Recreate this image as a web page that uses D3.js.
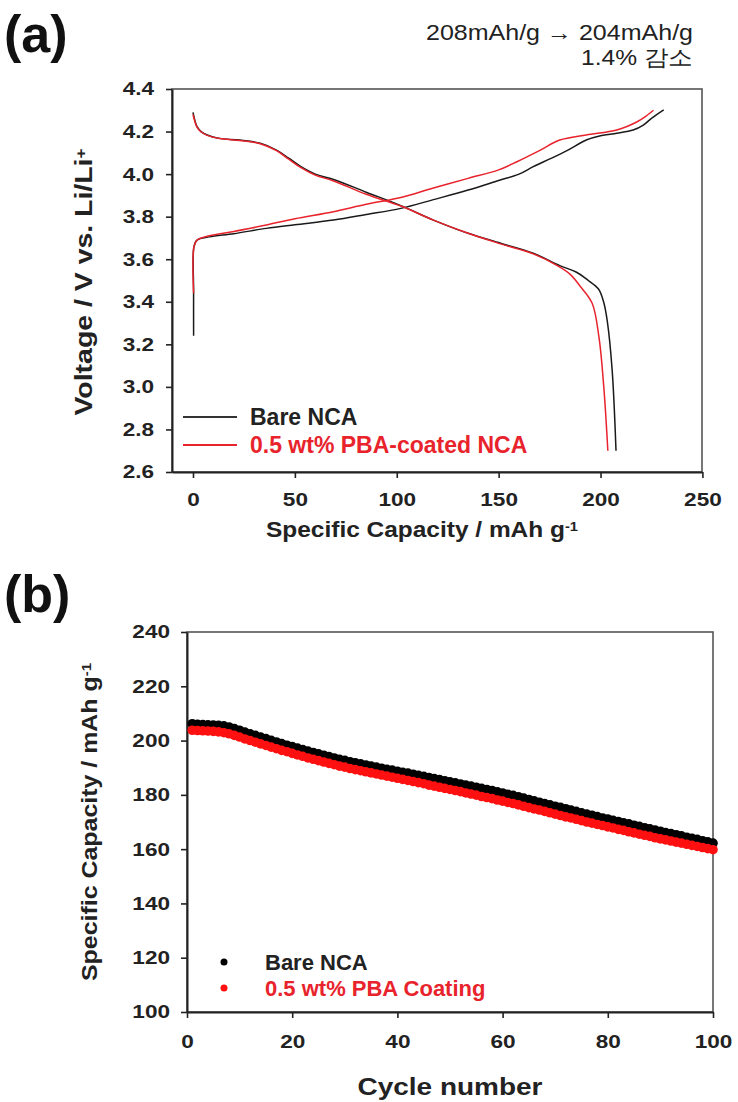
<html lang="en">
<head>
<meta charset="utf-8">
<title>NCA capacity</title>
<script src="https://cdn.jsdelivr.net/npm/d3@7"></script>
<style>
  body { margin: 0; background: #fff; }
  text { font-family: "Liberation Sans", Arial, sans-serif; }
</style>
</head>
<body></body>
<script type="text/javascript">

//****************************************************************************************************************************//
// Data

// (a) voltage profiles: [capacity mAh/g, voltage V]
var bareCharge = [[0.3,3.24],[0.3,3.45],[0.5,3.66],[2,3.69],[8,3.705],[20,3.72],[36,3.745],[50,3.762],[69,3.784],[85,3.81],
    [102,3.839],[118,3.88],[135,3.925],[150,3.97],[160,4.0],[167,4.035],[176,4.075],[184,4.113],[193,4.16],[200,4.18],
    [208,4.192],[216,4.207],[221,4.23],[225,4.262],[231,4.302]];
var coatedCharge = [[0.3,3.44],[0.5,3.66],[2,3.69],[8,3.71],[20,3.73],[36,3.761],[50,3.79],[69,3.823],[85,3.858],[102,3.89],
    [118,3.935],[135,3.98],[150,4.02],[159,4.058],[170,4.11],[180,4.16],[193,4.184],[208,4.207],[218,4.246],[222,4.27],[226,4.30]];
var bareDischarge = [[0,4.29],[1,4.25],[2,4.223],[4,4.2],[7,4.184],[13,4.168],[23,4.16],[33,4.145],[41,4.113],[47,4.075],
    [53,4.035],[60,4.0],[69,3.975],[85,3.915],[102,3.852],[118,3.784],[135,3.722],[151,3.675],[167,3.628],[180,3.57],
    [188,3.54],[194,3.5],[199,3.46],[201.5,3.4],[203.3,3.31],[205.7,3.08],[207.6,2.7]];
var coatedDischarge = [[0,4.28],[1,4.245],[2,4.22],[4,4.198],[7,4.182],[13,4.167],[23,4.158],[33,4.143],[41,4.11],[47,4.07],
    [53,4.03],[60,3.995],[69,3.968],[85,3.905],[102,3.85],[118,3.784],[135,3.722],[151,3.672],[167,3.625],[178.8,3.57],
    [185,3.53],[190.2,3.471],[195.9,3.393],[199.2,3.236],[201.6,3.0],[203.6,2.7]];

var xTicksA = [0, 50, 100, 150, 200, 250];
var yTicksA = [2.6, 2.8, 3.0, 3.2, 3.4, 3.6, 3.8, 4.0, 4.2, 4.4];
var legendA = ["Bare NCA", "0.5 wt% PBA-coated NCA"];

// (b) discharge capacity per cycle, cycles 1..100
var bareCycle = [206.2,206.0,205.9,205.8,205.7,205.6,205.4,205.0,204.4,203.8,
    203.1,202.5,201.9,201.3,200.7,200.1,199.5,198.9,198.3,197.8,
    197.2,196.7,196.1,195.6,195.1,194.6,194.1,193.6,193.1,192.7,
    192.2,191.8,191.4,191.0,190.6,190.2,189.8,189.4,189.1,188.7,
    188.3,188.0,187.6,187.2,186.8,186.4,186.0,185.6,185.2,184.8,
    184.4,184.0,183.6,183.2,182.8,182.4,182.0,181.6,181.1,180.7,
    180.2,179.8,179.3,178.8,178.3,177.8,177.3,176.8,176.3,175.8,
    175.4,174.9,174.4,173.9,173.4,172.9,172.5,172.0,171.5,171.1,
    170.6,170.2,169.7,169.3,168.8,168.4,167.9,167.5,167.0,166.6,
    166.1,165.7,165.3,164.9,164.4,164.0,163.6,163.1,162.7,162.2];
var coatedCycle = [203.8,203.7,203.6,203.5,203.4,203.2,202.9,202.5,201.9,201.3,
    200.6,200.0,199.4,198.8,198.2,197.6,197.0,196.4,195.9,195.3,
    194.7,194.2,193.6,193.1,192.6,192.1,191.6,191.1,190.6,190.2,
    189.7,189.3,188.9,188.5,188.1,187.7,187.3,186.9,186.5,186.1,
    185.7,185.3,184.9,184.5,184.1,183.6,183.2,182.8,182.4,182.0,
    181.6,181.2,180.7,180.3,179.9,179.4,179.0,178.6,178.1,177.7,
    177.2,176.8,176.3,175.8,175.3,174.8,174.4,173.9,173.4,172.9,
    172.4,171.9,171.5,171.0,170.5,170.0,169.6,169.1,168.7,168.2,
    167.8,167.3,166.9,166.4,166.0,165.5,165.1,164.7,164.2,163.8,
    163.4,163.0,162.6,162.2,161.8,161.4,161.0,160.6,160.2,159.8];

var xTicksB = [0, 20, 40, 60, 80, 100];
var yTicksB = [100, 120, 140, 160, 180, 200, 220, 240];
var legendB = ["Bare NCA", "0.5 wt% PBA Coating"];

var noteLines = ["208mAh/g \u2192 204mAh/g", "1.4% \uAC10\uC18C"];

//****************************************************************************************************************************//
// Canvas

var width = 738, height = 1102;
var black = "#1a1a1a", red = "#e8232c", dotRed = "#ff1010";

var canvas = d3.select("body")
            .append("svg")
            .attr("width", width)
            .attr("height", height);

canvas.append("rect")
        .attr("width", width)
        .attr("height", height)
        .attr("fill", "white");

// widen glyphs a bit, the source figure was stretched sideways
function stretch(sel, k){
    sel.each(function(){
        var w = this.getComputedTextLength();
        d3.select(this).attr("textLength", w*k).attr("lengthAdjust", "spacingAndGlyphs");
    });
}

function styleAxis(g){
    g.select(".domain").attr("stroke", "#222").attr("stroke-width", 2);
    g.selectAll(".tick line").attr("stroke", "#222").attr("stroke-width", 1.6);
    g.selectAll(".tick text")
        .attr("fill", "#222")
        .style("font-size", "18.5px")
        .style("font-weight", "bold")
        .style("font-family", "'Liberation Sans', Arial, sans-serif");
    stretch(g.selectAll(".tick text"), 1.22);
}

function frame(x0, y0, x1, y1){
    canvas.append("rect")
        .attr("x", x0).attr("y", y0)
        .attr("width", x1 - x0).attr("height", y1 - y0)
        .attr("fill", "none")
        .attr("stroke", "#555")
        .attr("stroke-width", 1.6);
}

function title(x, y, rot, parts, len, size){
    var t = canvas.append("text")
        .attr("transform", "translate(" + x + "," + y + ") rotate(" + rot + ")")
        .attr("text-anchor", "middle")
        .attr("fill", "#222")
        .style("font-weight", "bold")
        .style("font-size", size + "px");
    t.append("tspan").text(parts[0]);
    if(parts[1]) t.append("tspan").attr("dy", "-0.45em").style("font-size", (size*0.6) + "px").text(parts[1]);
    t.attr("textLength", len).attr("lengthAdjust", "spacingAndGlyphs");
    return t;
}

createPanelA();
createPanelB();
createLabels();

//****************************************************************************************************************************//
// Panel (a)

function createPanelA(){
    var left = 172, right = 702, top = 89, bottom = 472;

    var x = d3.scaleLinear().domain([-10.3, 249.8]).range([left, right]);
    var y = d3.scaleLinear().domain([2.6, 4.4]).range([bottom, top]);

    frame(left, top, right, bottom);

    canvas.append("g")
        .attr("transform", "translate(0," + bottom + ")")
        .call(d3.axisBottom(x).tickValues(xTicksA).tickSize(6).tickPadding(15).tickSizeOuter(0))
        .call(styleAxis);

    canvas.append("g")
        .attr("transform", "translate(" + left + ",0)")
        .call(d3.axisLeft(y).tickValues(yTicksA).tickFormat(d3.format(".1f")).tickSize(6).tickPadding(12).tickSizeOuter(0))
        .call(styleAxis);

    var line = d3.line()
        .x(function(d){ return x(d[0]); })
        .y(function(d){ return y(d[1]); })
        .curve(d3.curveCatmullRom.alpha(0.5));

    var curves = [
        {data: bareCharge, color: black},
        {data: bareDischarge, color: black},
        {data: coatedCharge, color: red},
        {data: coatedDischarge, color: red}
    ];

    canvas.append("g").selectAll("path")
        .data(curves)
        .enter().append("path")
        .attr("d", function(d){ return line(d.data); })
        .attr("fill", "none")
        .attr("stroke", function(d){ return d.color; })
        .attr("stroke-width", 1.5);

    // legend
    var lg = canvas.append("g").attr("transform", "translate(183,417)");
    legendA.forEach(function(name, i){
        var c = i == 0 ? "#333" : red;
        lg.append("line")
            .attr("x1", 0).attr("x2", 54)
            .attr("y1", i*28).attr("y2", i*28)
            .attr("stroke", c).attr("stroke-width", 1.8);
        lg.append("text")
            .attr("x", 67).attr("y", i*28 + 8)
            .attr("fill", i == 0 ? "#222" : red)
            .style("font-size", "23px")
            .style("font-weight", "bold")
            .text(name);
    });

    title(92, 282, -90, ["Voltage / V vs. Li/Li", "+"], 267, 23);
    title(422, 537, 0, ["Specific Capacity / mAh g", "-1"], 312, 22);
}

//****************************************************************************************************************************//
// Panel (b)

function createPanelB(){
    var left = 187, right = 713, top = 632, bottom = 1012;

    var x = d3.scaleLinear().domain([0, 100]).range([left, right]);
    var y = d3.scaleLinear().domain([100, 240]).range([bottom, top]);

    frame(left, top, right, bottom);

    canvas.append("g")
        .attr("transform", "translate(0," + bottom + ")")
        .call(d3.axisBottom(x).tickValues(xTicksB).tickSize(6).tickPadding(17).tickSizeOuter(0))
        .call(styleAxis);

    canvas.append("g")
        .attr("transform", "translate(" + left + ",0)")
        .call(d3.axisLeft(y).tickValues(yTicksB).tickSize(6).tickPadding(11).tickSizeOuter(0))
        .call(styleAxis);

    var series = [
        {data: bareCycle, color: "#000"},
        {data: coatedCycle, color: dotRed}
    ];

    series.forEach(function(s){
        canvas.append("g").selectAll("circle")
            .data(s.data)
            .enter().append("circle")
            .attr("cx", function(d, i){ return x(i + 1); })
            .attr("cy", function(d){ return y(d); })
            .attr("r", 4.8)
            .attr("fill", s.color);
    });

    var lg = canvas.append("g").attr("transform", "translate(224,962)");
    legendB.forEach(function(name, i){
        lg.append("circle")
            .attr("cx", 0).attr("cy", i*26)
            .attr("r", 3.5)
            .attr("fill", i == 0 ? "#000" : dotRed);
        lg.append("text")
            .attr("x", 41).attr("y", i*26 + 8)
            .attr("fill", i == 0 ? "#222" : red)
            .style("font-size", "22px")
            .style("font-weight", "bold")
            .text(name);
    });

    title(97, 822, -90, ["Specific Capacity / mAh g", "-1"], 318, 22);
    title(450, 1095, 0, ["Cycle number"], 185, 23);
}

//****************************************************************************************************************************//
// Panel letters and note

function createLabels(){
    canvas.append("text")
        .attr("x", 4).attr("y", 52)
        .attr("fill", "#111")
        .style("font-size", "52px")
        .style("font-weight", "bold")
        .text("(a)");

    canvas.append("text")
        .attr("x", 4).attr("y", 612)
        .attr("fill", "#111")
        .style("font-size", "52px")
        .style("font-weight", "bold")
        .text("(b)");

    var lens = [267, 112];
    noteLines.forEach(function(s, i){
        canvas.append("text")
            .attr("x", 693).attr("y", 40 + i*25)
            .attr("text-anchor", "end")
            .attr("fill", "#222")
            .style("font-size", "22px")
            .attr("textLength", lens[i])
            .attr("lengthAdjust", "spacingAndGlyphs")
            .text(s);
    });
}

</script>
</html>
